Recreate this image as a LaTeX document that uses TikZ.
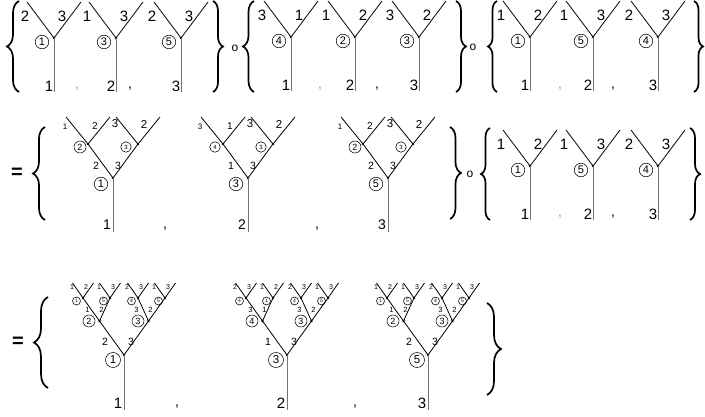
\documentclass[tikz,border=0pt]{standalone}
\usepackage{fontspec}
\setmainfont{Liberation Sans}
\usetikzlibrary{decorations.pathreplacing}
\newcommand\fs[1]{\fontsize{#1}{#1}\selectfont}
\tikzset{
  arm/.style={line width=0.8pt, black},
  stemline/.style={line width=0.9pt, black!55},
  vdot/.style={circle, fill=black, inner sep=0pt, minimum size=2.6pt},
  txt/.style={inner sep=0pt, font=\fs{#1}},
  cnum/.style 2 args={circle, draw, line width=0.55pt, inner sep=0pt, minimum size=#1, font=\fs{#2}},
  cone/.style={cnum={13.5}{11}},
  croot/.style={cnum={15}{11.5}},
  crootm/.style={cnum={13.5}{11}},
  cmid/.style={cnum={12}{9}},
  csmall/.style={cnum={10.5}{6}},
  ctiny/.style={cnum={8}{5}},
  curly/.style={decorate, decoration={brace, amplitude=#1}, line width=1.7pt},
}
% simple Y tree
\newcommand\ytree[7]{%
\begin{scope}[shift={(#2,#3)}]
 \node[vdot] (#1) at (0,0) {};
 \coordinate (#1L) at (-27,-36);
 \coordinate (#1R) at (27,-36);
 \coordinate (#1s) at (0,54);
 \draw[arm] (#1L) -- (#1.center) -- (#1R);
 \draw[stemline] (#1.center) -- (#1s);
 \node[txt=15] (#1l) at (-29,-22) {#4};
 \node[txt=15] (#1r) at (8,-22) {#5};
 \node[cone] (#1c) at (-12,4) {#6};
 \node[txt=15] (#1b) at (-5,48) {#7};
\end{scope}}
% two-level tree (row 2)
\newcommand\midtree[9]{%
\begin{scope}[shift={(#2,178)}]
 \node[vdot] (#1) at (0,0) {};
 \node[vdot] (#1a) at (-25,-34) {};
 \node[vdot] (#1b) at (25,-34) {};
 \coordinate (#1aL) at (-47,-61);
 \coordinate (#1aR) at (-3,-61);
 \coordinate (#1bL) at (3,-61);
 \coordinate (#1bR) at (47,-61);
 \coordinate (#1s) at (0,54);
 \draw[arm] (#1aL) -- (#1a.center) -- (#1.center) -- (#1b.center) -- (#1bR);
 \draw[arm] (#1a.center) -- (#1aR);
 \draw[arm] (#1b.center) -- (#1bL);
 \draw[stemline] (#1.center) -- (#1s);
 \foreach \t [count=\k] in {#3}{
   \pgfmathsetmacro\px{{-48,-18,2,31}[\k-1]}
   \pgfmathsetmacro\py{{-51,-52,-54,-54}[\k-1]}
   \pgfmathsetmacro\pf{{8,10,11.5,11.5}[\k-1]}
   \node[txt=\pf] (#1t\k) at (\px,\py) {\t};
 }
 \node[#5] (#1ac) at (-33,-31) {#4};
 \node[csmall] (#1bc) at (13,-31) {#6};
 \foreach \t [count=\k] in {#7}{
   \pgfmathsetmacro\px{{-17,5}[\k-1]}
   \node[txt=10.5] (#1i\k) at (\px,-12) {\t};
 }
 \node[crootm] (#1rc) at (-12,6) {#8};
 \node[txt=14] (#1bl) at (-6,47) {#9};
\end{scope}}
% three-level tree (row 3)
\newcommand\bigtree[8]{%
\begin{scope}[shift={(#2,355)}]
 \node[vdot] (#1) at (0,0) {};
 \node[vdot] (#1a) at (-24.5,-34) {};
 \node[vdot] (#1b) at (24.5,-34) {};
 \node[vdot] (#1p1) at (-41,-57) {};
 \node[vdot] (#1p2) at (-14,-57) {};
 \node[vdot] (#1p3) at (14,-57) {};
 \node[vdot] (#1p4) at (41,-57) {};
 \foreach \k/\sx in {1/-41,2/-14,3/14,4/41}{
   \coordinate (#1p\k-L) at (\sx-10.5,-72);
   \coordinate (#1p\k-R) at (\sx+10.5,-72);
   \draw[arm] (#1p\k-L) -- (#1p\k.center) -- (#1p\k-R);
 }
 \coordinate (#1s) at (0,55);
 \draw[arm] (#1p1.center) -- (#1a.center) -- (#1.center) -- (#1b.center) -- (#1p4.center);
 \draw[arm] (#1a.center) -- (#1p2.center);
 \draw[arm] (#1b.center) -- (#1p3.center);
 \draw[stemline] (#1.center) -- (#1s);
 \foreach \la/\ra/\ca [count=\k] in {#3}{
   \pgfmathsetmacro\sx{{-41,-14,14,41}[\k-1]}
   \node[txt=7] (#1p\k-l) at (\sx-11,-68) {\la};
   \node[txt=7] (#1p\k-r) at (\sx+3,-68) {\ra};
   \node[ctiny] (#1p\k-c) at (\sx-6.5,-54) {\ca};
 }
 \foreach \la/\ra/\ca [count=\k] in {#4}{
   \pgfmathsetmacro\sx{{-24.5,24.5}[\k-1]}
   \node[txt=7.5] (#1q\k-l) at (\sx-12,-45) {\la};
   \node[txt=7.5] (#1q\k-r) at (\sx+2,-45) {\ra};
   \node[cmid] (#1q\k-c) at (\sx-10.5,-34) {\ca};
 }
 \node[txt=10.5] (#1rl) at (-19,-13) {#5};
 \node[txt=10.5] (#1rr) at (7,-13) {#6};
 \node[croot] (#1rc) at (-11,5) {#7};
 \node[txt=15] (#1bl) at (-6,48) {#8};
\end{scope}}

\begin{document}
\begin{tikzpicture}[x=1pt,y=-1pt]
\useasboundingbox (0,0) rectangle (705,417);
\fill[white] (0,0) rectangle (705,417);

% ---------- row 1 ----------
\draw[curly=12pt] (19,92) -- (19,1);
\ytree{A1}{54}{38}{2}{3}{1}{1}
\ytree{A2}{116}{38}{1}{3}{3}{2}
\ytree{A3}{181}{38}{2}{3}{5}{3}
\node[txt=14, black!40] (ac1) at (77,89) {,};
\node[txt=14] (ac2) at (130,89) {,};
\draw[curly=10pt] (213,1) -- (213,92);
\node[txt=12] (o1) at (235,48) {o};

\draw[curly=11pt] (254,92) -- (254,1);
\ytree{B1}{291}{37}{3}{1}{4}{1}
\ytree{B2}{355}{37}{1}{2}{2}{2}
\ytree{B3}{419}{37}{3}{2}{3}{3}
\node[txt=14, black!40] (bc1) at (320,89) {,};
\node[txt=14] (bc2) at (377,89) {,};
\draw[curly=10pt] (456,1) -- (456,92);
\node[txt=12] (o2) at (473,47) {o};

\draw[curly=9pt] (497,92) -- (497,1);
\ytree{C1}{530}{37}{1}{2}{1}{1}
\ytree{C2}{593}{37}{1}{3}{5}{2}
\ytree{C3}{658}{37}{2}{3}{4}{3}
\node[txt=14, black!40] (cc1) at (560,89) {,};
\node[txt=14] (cc2) at (613,89) {,};
\draw[curly=9pt] (694,1) -- (694,92);

% ---------- row 2 ----------
\node[txt=20, font=\fs{20}\bfseries] (eq1) at (17,173) {=};
\draw[curly=12pt] (45,220) -- (45,127);
\midtree{M1}{113}{1,2,3,2}{2}{cmid}{3}{2,3}{1}{1}
\midtree{M2}{248}{3,1,3,2}{4}{csmall}{3}{1,3}{3}{2}
\midtree{M3}{388}{1,2,3,2}{2}{cmid}{3}{2,3}{5}{3}
\node[txt=14] (mc1) at (165,229) {,};
\node[txt=14] (mc2) at (317,229) {,};
\draw[curly=11pt] (450,127) -- (450,219);
\node[txt=12] (o3) at (470,174) {o};

\draw[curly=9pt] (490,220) -- (490,128);
\ytree{D1}{530}{166}{1}{2}{1}{1}
\ytree{D2}{593}{166}{1}{3}{5}{2}
\ytree{D3}{658}{166}{2}{3}{4}{3}
\node[txt=14, black!40] (dc1) at (560,217) {,};
\node[txt=14] (dc2) at (613,217) {,};
\draw[curly=10pt] (690,128) -- (690,220);

% ---------- row 3 ----------
\node[txt=20, font=\fs{20}\bfseries] (eq2) at (18,342) {=};
\draw[curly=14pt] (48,388) -- (48,297);
\bigtree{T1}{124}{1/2/1,1/3/5,2/3/4,1/3/5}{1/2/2,3/2/3}{2}{3}{1}{1}
\bigtree{T2}{287}{2/3/4,1/2/1,2/3/4,1/3/5}{3/1/4,3/2/3}{1}{3}{3}{2}
\bigtree{T3}{428}{1/2/1,1/3/5,2/3/4,1/3/5}{1/2/2,3/2/3}{2}{3}{5}{3}
\node[txt=14] (tc1) at (177,407) {,};
\node[txt=14] (tc2) at (355,407) {,};
\draw[curly=14pt] (487,303) -- (487,395);
\end{tikzpicture}
\end{document}
